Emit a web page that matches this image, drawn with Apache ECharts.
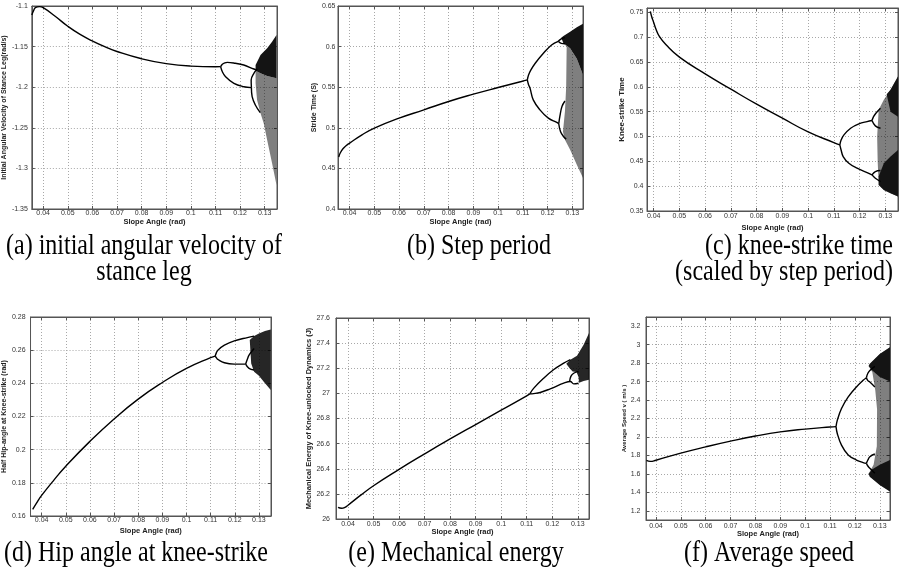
<!DOCTYPE html>
<html>
<head>
<meta charset="utf-8">
<script src="https://cdn.jsdelivr.net/npm/echarts@6/dist/echarts.min.js"></script>
<style>
html, body { margin: 0; padding: 0; background: #fff; }
#chart { width: 903px; height: 570px; }
</style>
</head>
<body>
<div id="chart"></div>
<script>
// values, [slope angle, value]

// (a) initial angular velocity of stance leg
const velMain = [[0.0354,-1.111],[0.0362,-1.105],[0.037,-1.1017],[0.0385,-1.1008],[0.04,-1.102],[0.045,-1.113],[0.05,-1.125],[0.055,-1.135],[0.06,-1.143],[0.065,-1.150],[0.07,-1.156],[0.08,-1.165],[0.09,-1.171],[0.1,-1.174],[0.11,-1.1748],[0.1121,-1.1747]];
const velUpper = [[0.1121,-1.1747],[0.1128,-1.1718],[0.1138,-1.1700],[0.1148,-1.1694],[0.118,-1.1705],[0.1215,-1.1727],[0.1256,-1.1776],[0.1269,-1.1788]];
const velLower = [[0.1121,-1.1747],[0.1128,-1.181],[0.1141,-1.187],[0.1175,-1.1953],[0.1215,-1.1994],[0.1246,-1.2005]];
const velLowerUp = [[0.1246,-1.2005],[0.1245,-1.1911],[0.1256,-1.1829],[0.1269,-1.178]];
const velLowerDown = [[0.1246,-1.2005],[0.1249,-1.2117],[0.1262,-1.2219],[0.1282,-1.2314]];
const velDense = [[0.1263,-1.1727],[0.1283,-1.1603],[0.131,-1.1521],[0.133,-1.144],[0.1348,-1.1357],[0.1348,-1.189],[0.131,-1.1862],[0.1283,-1.1829],[0.1263,-1.1796]];
const velSparse = [[0.1263,-1.1796],[0.1283,-1.1829],[0.131,-1.1862],[0.1348,-1.189],[0.1348,-1.3204],[0.133,-1.2937],[0.131,-1.265],[0.1296,-1.2445],[0.1283,-1.2321],[0.1269,-1.2158],[0.1263,-1.1952]];

// (b) step period
const stepMain = [[0.0356,0.464],[0.0362,0.4689],[0.0373,0.4742],[0.0387,0.4783],[0.04,0.4811],[0.045,0.4914],[0.05,0.4996],[0.06,0.5119],[0.07,0.5221],[0.08,0.5324],[0.09,0.5414],[0.1,0.5496],[0.1094,0.557],[0.1118,0.559]];
const stepUpper = [[0.1118,0.559],[0.1123,0.565],[0.1132,0.571],[0.115,0.5795],[0.1183,0.5918],[0.1216,0.602],[0.1243,0.6065]];
const stepUpperA = [[0.1243,0.6065],[0.1255,0.6095],[0.127,0.611]];
const stepUpperB = [[0.1243,0.6065],[0.1255,0.604],[0.127,0.6035]];
const stepLower = [[0.1118,0.559],[0.1123,0.553],[0.1129,0.5488],[0.1142,0.5344],[0.1169,0.5221],[0.1203,0.5119],[0.1237,0.5066],[0.1245,0.505]];
const stepLowerA = [[0.1245,0.505],[0.125,0.515],[0.1258,0.5262],[0.127,0.533]];
const stepLowerB = [[0.1245,0.505],[0.1252,0.4955],[0.1265,0.489],[0.1275,0.486]];
const stepDense = [[0.1255,0.611],[0.1264,0.6131],[0.1291,0.6184],[0.1318,0.6238],[0.1343,0.628],[0.1343,0.565],[0.1318,0.585],[0.1291,0.598],[0.1264,0.604]];
const stepSparse = [[0.1264,0.604],[0.1291,0.598],[0.1318,0.585],[0.1343,0.565],[0.1343,0.4381],[0.1318,0.4545],[0.1291,0.473],[0.127,0.4852],[0.1262,0.495],[0.127,0.52],[0.1275,0.55],[0.1277,0.60]];

// (c) knee-strike time (scaled by step period)
const kneeMain = [[0.0387,0.752],[0.0392,0.7419],[0.04,0.7298],[0.0409,0.7164],[0.0422,0.7016],[0.0448,0.6848],[0.05,0.66],[0.06,0.6263],[0.07,0.5954],[0.08,0.5652],[0.09,0.537],[0.1,0.5094],[0.11,0.4879],[0.1123,0.4832]];
const kneeUpper = [[0.1123,0.4832],[0.1128,0.493],[0.1139,0.5034],[0.1165,0.5168],[0.1197,0.5255],[0.1229,0.5302],[0.1248,0.5323]];
const kneeUpperA = [[0.1248,0.5323],[0.1254,0.54],[0.1263,0.547],[0.1281,0.5571]];
const kneeUpperB = [[0.1248,0.5323],[0.1261,0.5215],[0.1281,0.5168]];
const kneeLower = [[0.1123,0.4832],[0.1128,0.473],[0.1136,0.4597],[0.1158,0.4462],[0.119,0.4362],[0.1229,0.4274],[0.1248,0.4227]];
const kneeLowerA = [[0.1248,0.4227],[0.1261,0.4294],[0.1281,0.4315]];
const kneeLowerB = [[0.1248,0.4227],[0.1261,0.416],[0.1281,0.4093]];
const kneeSparse = [[0.1274,0.5538],[0.1294,0.5739],[0.132,0.5941],[0.1349,0.621],[0.1349,0.379],[0.132,0.3858],[0.1294,0.3925],[0.1274,0.4026],[0.127,0.45],[0.1268,0.5]];
const kneeDense = [[0.1274,0.42],[0.1294,0.4462],[0.132,0.4597],[0.1349,0.4731],[0.1349,0.379],[0.132,0.3858],[0.1294,0.3925],[0.1274,0.4026]];
const kneeDenseTop = [[0.1305,0.585],[0.132,0.5941],[0.1349,0.621],[0.1349,0.54],[0.132,0.55]];

// (d) hip angle at knee-strike
const hipMain = [[0.0363,0.164],[0.0384,0.169],[0.04,0.1724],[0.045,0.1815],[0.05,0.19],[0.06,0.205],[0.07,0.2185],[0.08,0.2305],[0.09,0.2405],[0.1,0.249],[0.11,0.2555],[0.1119,0.2564]];
const hipUpper = [[0.1119,0.2564],[0.1124,0.2585],[0.113,0.26],[0.1157,0.263],[0.1198,0.2656],[0.1252,0.2676],[0.128,0.2685]];
const hipLower = [[0.1119,0.2564],[0.1125,0.2552],[0.113,0.2544],[0.1157,0.2524],[0.1198,0.2516],[0.1245,0.2516]];
const hipLowerA = [[0.1245,0.2516],[0.1252,0.2545],[0.1259,0.257],[0.128,0.261]];
const hipLowerB = [[0.1245,0.2516],[0.1259,0.249],[0.128,0.248]];
const hipCloud = [[0.1262,0.2662],[0.128,0.2685],[0.13,0.27],[0.1325,0.2715],[0.1349,0.2724],[0.1349,0.236],[0.132,0.241],[0.13,0.2445],[0.128,0.247],[0.1268,0.252]];

// (e) mechanical energy
const energyMain = [[0.0361,26.092],[0.0375,26.085],[0.039,26.095],[0.04,26.11],[0.045,26.19],[0.05,26.265],[0.06,26.395],[0.07,26.518],[0.08,26.637],[0.09,26.752],[0.1,26.866],[0.11,26.98],[0.1112,26.996]];
const energyUpper = [[0.1112,26.996],[0.1127,27.04],[0.1166,27.12],[0.1205,27.188],[0.1245,27.24],[0.1271,27.268]];
const energyLower = [[0.1112,26.996],[0.1127,26.998],[0.1153,27.007],[0.1192,27.036],[0.1245,27.081],[0.1271,27.095],[0.1284,27.076],[0.1303,27.081]];
const energyLoop = [[0.1268,27.094],[0.1273,27.135],[0.1284,27.16],[0.1303,27.175]];
const energyCloud = [[0.1255,27.235],[0.1271,27.268],[0.1297,27.3],[0.1323,27.387],[0.1344,27.48],[0.1344,27.108],[0.1323,27.098],[0.1305,27.085],[0.1303,27.13],[0.1295,27.17],[0.128,27.175],[0.1268,27.2]];

// (f) average speed
const speedMain = [[0.0362,1.745],[0.0377,1.735],[0.04,1.748],[0.05,1.825],[0.06,1.893],[0.07,1.955],[0.08,2.01],[0.09,2.055],[0.1,2.085],[0.11,2.108],[0.1124,2.112]];
const speedUpper = [[0.1124,2.112],[0.1129,2.18],[0.1146,2.308],[0.1173,2.434],[0.1206,2.542],[0.1233,2.614],[0.1246,2.642]];
const speedUpperA = [[0.1246,2.642],[0.1252,2.69],[0.126,2.72],[0.128,2.765]];
const speedUpperB = [[0.1246,2.642],[0.1252,2.61],[0.126,2.596],[0.128,2.542]];
const speedLower = [[0.1124,2.112],[0.1129,2.038],[0.1146,1.912],[0.1173,1.804],[0.1206,1.75],[0.1233,1.722],[0.1246,1.714]];
const speedLowerA = [[0.1246,1.714],[0.1252,1.75],[0.126,1.786],[0.128,1.815]];
const speedLowerB = [[0.1246,1.714],[0.1252,1.685],[0.126,1.66],[0.128,1.606]];
const speedSparse = [[0.1255,2.77],[0.126,2.794],[0.13,2.9],[0.1341,2.973],[0.1341,1.408],[0.13,1.48],[0.126,1.57],[0.1255,1.6],[0.1275,1.7],[0.1288,1.9],[0.1289,2.3],[0.1282,2.5],[0.127,2.7]];
const speedDenseTop = [[0.1255,2.77],[0.126,2.794],[0.13,2.9],[0.1341,2.973],[0.1341,2.6],[0.13,2.65],[0.127,2.72]];
const speedDenseBottom = [[0.1255,1.6],[0.127,1.65],[0.13,1.7],[0.1341,1.75],[0.1341,1.408],[0.13,1.48],[0.126,1.57]];

// axis ranges per panel: [xmin, xmax, ymin, ymax, ystep]
const xRanges = [[0.0354,0.135],[0.0353,0.1343],[0.0374,0.1349],[0.0354,0.135],[0.0353,0.1344],[0.036,0.1341]];
const yRanges = [[-1.35,-1.1,0.05],[0.4,0.65,0.05],[0.35,0.759,0.05],[0.16,0.28,0.02],[26,27.6,0.2],[1.1,3.3,0.2]];
const yNames = ['Initial Angular Velocity of Stance Leg(rad/s)','Stride Time (S)','Knee-strike Time','Half Hip-angle at Knee-strike (rad)','Mechanical Energy of Knee-unlocked Dynamics (J)','Average Speed v ( m/s )'];
const xName = 'Slope Angle (rad)';
const captions = [
	['(a) initial angular velocity of', 144, 246, 'center'],
	['stance leg', 144, 272, 'center'],
	['(b) Step period', 479, 246, 'center'],
	['(c) knee-strike time', 893, 246, 'right'],
	['(scaled by step period)', 893, 272, 'right'],
	['(d) Hip angle at knee-strike', 136, 553, 'center'],
	['(e) Mechanical energy', 456, 553, 'center'],
	['(f) Average speed', 769, 553, 'center']
];

var myChart = echarts.init(document.getElementById('chart'));

const sans = '"Liberation Sans", Arial, sans-serif';
const frame = '#555';
const grids = [
	{left: 31, top: 6, width: 246, height: 203},
	{left: 338, top: 6, width: 245, height: 203},
	{left: 647, top: 8, width: 251, height: 203},
	{left: 26, top: 317, width: 245, height: 199},
	{left: 336, top: 318, width: 253, height: 201},
	{left: 646, top: 317, width: 244, height: 203}
];
const xGap = [8, 8.5, 13, 11, 8, 7];
const xMargin = [1, 1, 1.5, 1, 1.5, 2.5];
const yGap = [20, 16, 17, 15, 17, 12];
const yMargin = [4, 2.5, 3.5, 5, 6, 5.5];
const yNameSize = [7, 7, 8, 7, 7.5, 6];

function tickText(step) {
	return function (v) {
		var k = v / step;
		if (Math.abs(k - Math.round(k)) > 1e-6) return '';
		return String(+(Math.round(k) * step).toFixed(4));
	};
}

var xAxes = [], yAxes = [];
grids.forEach(function (g, i) {
	var xr = xRanges[i], yr = yRanges[i];
	var ticks = {inside: true, length: 3, lineStyle: {color: frame}};
	var split = {show: true, lineStyle: {type: [1, 2], color: '#a8a8a8', width: 1}};
	xAxes.push({
		type: 'value', gridIndex: i, min: xr[0], max: xr[1],
		splitNumber: 10, minInterval: 0.01, maxInterval: 0.01,
		name: xName, nameLocation: 'middle', nameGap: xGap[i],
		nameTextStyle: {fontFamily: sans, fontSize: 7.5, fontWeight: 'bold', color: '#222'},
		axisLine: {lineStyle: {color: frame}}, axisTick: ticks,
		axisLabel: {fontFamily: sans, fontSize: 7, color: '#333', margin: xMargin[i], formatter: tickText(0.01)},
		splitLine: split
	});
	yAxes.push({
		type: 'value', gridIndex: i, min: yr[0], max: yr[1],
		splitNumber: Math.round((yr[1] - yr[0]) / yr[2]), minInterval: yr[2], maxInterval: yr[2],
		name: yNames[i], nameLocation: 'middle', nameGap: yGap[i],
		nameTextStyle: {fontFamily: sans, fontSize: yNameSize[i], fontWeight: 'bold', color: '#222'},
		axisLine: {show: true, lineStyle: {color: frame}}, axisTick: ticks,
		axisLabel: {fontFamily: sans, fontSize: 7, color: '#333', margin: yMargin[i], formatter: tickText(yr[2])},
		splitLine: split
	});
});
// top and right frame ticks
grids.forEach(function (g, i) {
	var xr = xRanges[i], yr = yRanges[i];
	var ticks = {inside: true, length: 3, lineStyle: {color: frame}};
	xAxes.push({type: 'value', gridIndex: i, position: 'top', min: xr[0], max: xr[1], splitNumber: 10, minInterval: 0.01, maxInterval: 0.01,
		axisLine: {show: true, lineStyle: {color: frame}}, axisTick: ticks, axisLabel: {show: false}, splitLine: {show: false}});
	yAxes.push({type: 'value', gridIndex: i, position: 'right', min: yr[0], max: yr[1], splitNumber: Math.round((yr[1] - yr[0]) / yr[2]), minInterval: yr[2], maxInterval: yr[2],
		axisLine: {show: true, lineStyle: {color: frame}}, axisTick: ticks, axisLabel: {show: false}, splitLine: {show: false}});
});

function curve(i, pts, smooth) {
	return {
		type: 'line', xAxisIndex: i, yAxisIndex: i, data: pts,
		symbol: 'none', smooth: smooth, silent: true, z: 3,
		lineStyle: {color: '#000', width: 1.4}
	};
}

function cloud(i, pts, fill) {
	return {
		type: 'custom', xAxisIndex: i, yAxisIndex: i, data: [pts[0]], silent: true, clip: true, z: 2,
		renderItem: function (params, api) {
			return {
				type: 'polygon',
				shape: {points: pts.map(function (p) { return api.coord(p); })},
				style: {fill: fill}
			};
		}
	};
}

const dense = '#141414';
const sparse = 'rgba(0,0,0,0.5)';

let option = {
	backgroundColor: '#fff',
	animation: false,
	grid: grids.map(function (g) {
		return Object.assign({show: true, borderColor: frame, borderWidth: 1, backgroundColor: '#fff', containLabel: false}, g);
	}),
	xAxis: xAxes,
	yAxis: yAxes,
	series: [
		cloud(0, velSparse, sparse), cloud(0, velDense, dense),
		curve(0, velMain, true), curve(0, velUpper, 0.4), curve(0, velLower, 0.4),
		curve(0, velLowerUp, 0.4), curve(0, velLowerDown, 0.4),

		cloud(1, stepSparse, sparse), cloud(1, stepDense, dense),
		curve(1, stepMain, true), curve(1, stepUpper, 0.4), curve(1, stepUpperA, 0.4), curve(1, stepUpperB, 0.4),
		curve(1, stepLower, 0.4), curve(1, stepLowerA, 0.4), curve(1, stepLowerB, 0.4),

		cloud(2, kneeSparse, sparse), cloud(2, kneeDense, dense), cloud(2, kneeDenseTop, dense),
		curve(2, kneeMain, true), curve(2, kneeUpper, 0.4), curve(2, kneeUpperA, 0.4), curve(2, kneeUpperB, 0.4),
		curve(2, kneeLower, 0.4), curve(2, kneeLowerA, 0.4), curve(2, kneeLowerB, 0.4),

		cloud(3, hipCloud, 'rgba(0,0,0,0.85)'),
		curve(3, hipMain, true), curve(3, hipUpper, 0.4), curve(3, hipLower, 0.4),
		curve(3, hipLowerA, 0.4), curve(3, hipLowerB, 0.4),

		cloud(4, energyCloud, 'rgba(0,0,0,0.85)'),
		curve(4, energyMain, true), curve(4, energyUpper, 0.4), curve(4, energyLower, 0.4), curve(4, energyLoop, 0.4),

		cloud(5, speedSparse, sparse), cloud(5, speedDenseTop, dense), cloud(5, speedDenseBottom, dense),
		curve(5, speedMain, true), curve(5, speedUpper, 0.4), curve(5, speedUpperA, 0.4), curve(5, speedUpperB, 0.4),
		curve(5, speedLower, 0.4), curve(5, speedLowerA, 0.4), curve(5, speedLowerB, 0.4)
	],
	graphic: captions.map(function (c) {
		return {
			type: 'text', x: c[1], y: c[2], scaleY: 1.2, silent: true,
			style: {
				text: c[0], font: '24px "Liberation Serif", "Times New Roman", serif', fill: '#000',
				align: c[3], verticalAlign: 'middle', textAlign: c[3], textVerticalAlign: 'middle'
			}
		};
	})
};

myChart.setOption(option);
</script>
</body>
</html>
